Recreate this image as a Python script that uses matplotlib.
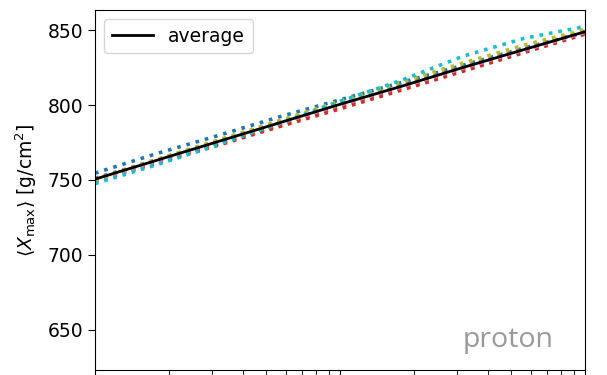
import numpy as np
import matplotlib
matplotlib.use("Agg")
import matplotlib.pyplot as plt

# energy grid (log10 E/eV) and <Xmax> per series
log_e = [17.0, 17.25, 17.5, 17.75, 18.0, 18.25, 18.5, 18.75, 19.0]

average = [750.5, 763.0, 775.5, 788.0, 800.5, 812.5, 825.0, 837.0, 849.0]

series = [
    [754.5, 767.5, 779.5, 792.0, 803.5, 815.0, 826.5, 838.0, 848.5],  # C0
    [751.0, 762.5, 774.0, 786.0, 799.0, 811.5, 824.0, 836.5, 849.0],  # C1
    [749.5, 761.5, 774.0, 786.5, 799.0, 810.5, 823.0, 835.5, 847.5],  # C2
    [749.0, 761.0, 773.0, 785.5, 797.5, 810.0, 822.5, 835.0, 847.5],  # C3
    [750.5, 763.0, 776.0, 788.5, 800.5, 812.5, 825.0, 837.0, 849.0],  # C4
    [750.0, 762.5, 775.5, 788.0, 800.0, 812.5, 825.0, 837.0, 849.0],  # C5
    [749.0, 762.0, 775.0, 787.5, 800.0, 812.0, 824.5, 836.5, 848.5],  # C6
    [751.0, 763.5, 776.0, 788.5, 801.0, 813.0, 825.5, 837.5, 849.5],  # C7
    [750.0, 763.5, 776.5, 789.5, 802.5, 815.5, 828.0, 840.0, 850.5],  # C8
    [747.5, 760.0, 773.5, 787.5, 802.5, 816.5, 832.5, 844.5, 852.5],  # C9
]

energy = 10 ** np.array(log_e)

fig = plt.figure(figsize=(6.07, 3.75), dpi=100)
ax = fig.add_axes([95 / 607, 5 / 375, 490 / 607, 360 / 375])

for i, s in enumerate(series):
    ax.plot(energy, s, ls=':', lw=2.6, color='C%d' % i)
ax.plot(energy, average, color='k', lw=2.0, label='average')

ax.set_xscale('log')
ax.set_xlim(1e17, 1e19)
ax.set_ylim(623, 863.5)
ax.set_yticks([650, 700, 750, 800, 850])
ax.tick_params(axis='y', labelsize=13.5, length=5)
ax.tick_params(axis='x', which='both', labelbottom=False)
ax.tick_params(axis='x', which='major', length=6)
ax.tick_params(axis='x', which='minor', length=4)

ax.set_ylabel(r'$\langle X_\mathrm{max}\rangle$ [g/cm$^2$]', fontsize=13.5,
              labelpad=6)

ax.legend(loc='upper left', fontsize=13.5, handlelength=2.2)

ax.text(0.935, 0.064, 'proton', transform=ax.transAxes, ha='right',
        va='baseline', fontsize=20.5, color='#999999', family='Open Sans')

fig.savefig('out.png', dpi=100)
